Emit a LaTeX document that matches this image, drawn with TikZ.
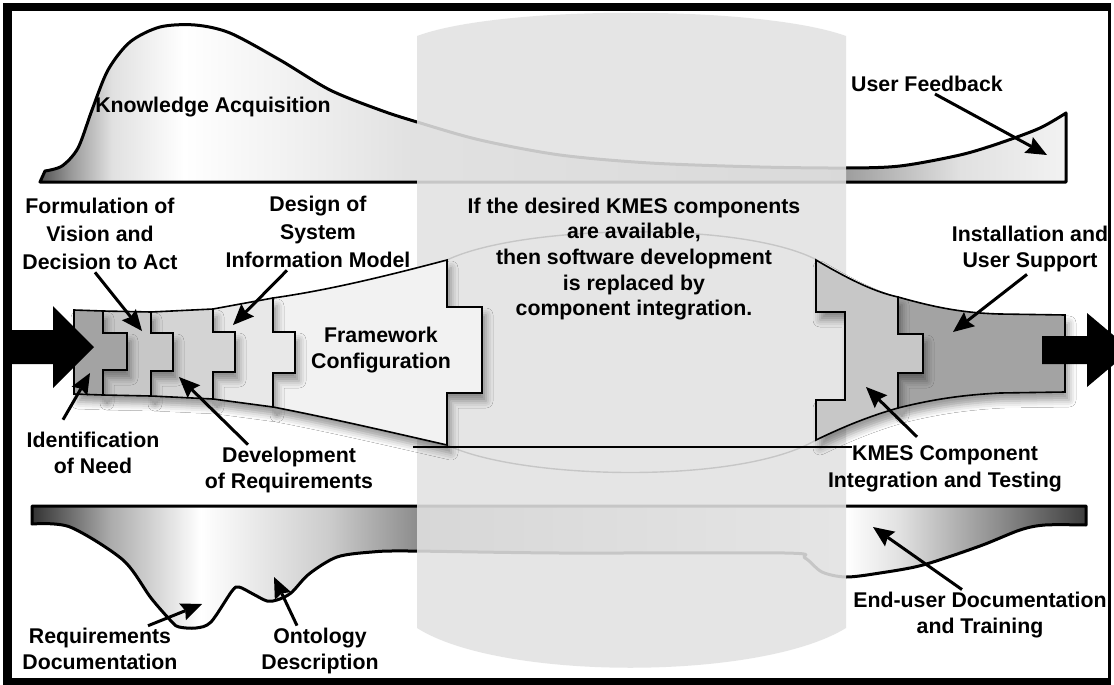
\documentclass[tikz,border=0pt]{standalone}
\usepackage{fontspec}
\setmainfont{Liberation Sans}
\usetikzlibrary{arrows.meta,shadows.blur}
\definecolor{pcA}{gray}{0.64}
\definecolor{pcB}{gray}{0.78}
\definecolor{pcC}{gray}{0.83}
\definecolor{pcD}{gray}{0.91}
\definecolor{pcE}{gray}{0.95}
\definecolor{panelgray}{gray}{0.885}
\pgfdeclarehorizontalshading{topband}{100bp}{color(0bp)=(black!68); color(25bp)=(black!68); color(26.5bp)=(black!40); color(28.5bp)=(black!12); color(32bp)=(white); color(43.4bp)=(black!12); color(64.3bp)=(black!38); color(69.8bp)=(black!12); color(75bp)=(black!5); color(100bp)=(black!5)}
\pgfdeclarehorizontalshading{lowband}{100bp}{color(0bp)=(black!80); color(25bp)=(black!80); color(28.7bp)=(black!33); color(33bp)=(white); color(39.1bp)=(black!20); color(43.3bp)=(black!45); color(63.6bp)=(white); color(66.2bp)=(black!12); color(70.9bp)=(black!45); color(75bp)=(black!76); color(100bp)=(black!76)}

\begin{document}
\begin{tikzpicture}[x=1pt,y=-1pt,
    lbl/.style={font=\fontsize{21.3}{26.5}\selectfont\bfseries,align=center,inner sep=2pt},
    piece/.style={draw,line width=1.6pt,line join=miter},
    pcshadow/.style={blur shadow={shadow xshift=4pt,shadow yshift=-8pt,shadow blur radius=7pt,shadow opacity=40}},
    lblarrow/.style={-{Stealth[length=21pt,width=18pt,inset=3pt,line width=0pt,fill=black]},line width=3pt},
    band/.style={draw,line width=3pt,line join=round}]
    \useasboundingbox (0,0) rectangle (1114,685);
    \fill[black] (3,3) rectangle (1111,685);
    \fill[white] (12,11) rectangle (1108,678);

    \path[band,shade,shading=topband] (40,182) -- (45,171) -- plot[smooth] coordinates {(45,171) (62,166) (78,148) (92,110) (108,70) (130,42) (160,27) (195,25) (230,33) (280,60) (330,90) (380,110) (417,122) (480,140) (560,155) (650,163) (760,167) (846,168) (900,166) (960,155) (1000,143) (1040,128) (1066,113)} -- (1066,182) -- cycle;
    \path[band,shade,shading=lowband] (32,506) -- (1086,506) -- (1086,525) -- plot[smooth] coordinates {(1086,525) (1045,525) (1020,530) (980,546) (923,565) (880,573) (846,577) (822,572) (805,558) (785,553) (560,553) (409,551) (372,552) (337,557) (309,574) (291,593) (277,600) (267,601) (253,594) (239,587) (232,591) (211,622) (196,628) (179,627) (172,622) (151,598) (123,560) (70,527) (32,524)} -- cycle;

    \draw[line width=1.4pt] (447,260) .. controls (520,225) and (740,220) .. (817,260);
    \draw[line width=1.4pt] (447,445) .. controls (520,480) and (740,485) .. (816,440);

    \fill[panelgray,fill opacity=0.88] (417,36) .. controls (500,5) and (760,5) .. (846,36) -- (846,628) .. controls (760,681) and (500,681) .. (417,628) -- cycle;
    \draw[line width=1.4pt] (413,447) -- (852,447);

    \path[piece,pcshadow,fill=pcA] (898,297) .. controls (930,306) and (960,313) .. (1000,314) -- (1065,315) -- (1065,392) -- (1000,393) .. controls (960,395) and (930,400) .. (898,408) -- (898,373) -- (923,373) -- (923,334) -- (898,334) -- cycle;
    \path[piece,pcshadow,fill=pcB] (816,260) .. controls (850,280) and (875,292) .. (898,297) -- (898,334) -- (923,334) -- (923,373) -- (898,373) -- (898,408) .. controls (870,416) and (845,426) .. (816,440) -- (816,400) -- (845,400) -- (845,312) -- (816,312) -- cycle;

    \path[piece,pcshadow,fill=pcE] (273,298) .. controls (330,290) and (390,275) .. (447,260) -- (447,307) -- (482,307) -- (482,393) -- (447,393) -- (447,445) .. controls (390,432) and (330,418) .. (273,407) -- (273,373) -- (295,373) -- (295,332) -- (273,332) -- cycle;
    \path[piece,pcshadow,fill=pcD] (213,309) -- (273,298) -- (273,332) -- (295,332) -- (295,373) -- (273,373) -- (273,407) -- (213,399) -- (213,372) -- (235,372) -- (235,332) -- (213,332) -- cycle;
    \path[piece,pcshadow,fill=pcC] (151,312) -- (213,309) -- (213,332) -- (235,332) -- (235,372) -- (213,372) -- (213,399) -- (151,396) -- (151,371) -- (173,371) -- (173,333) -- (151,333) -- cycle;
    \path[piece,pcshadow,fill=pcB] (103,311) -- (151,312) -- (151,333) -- (173,333) -- (173,371) -- (151,371) -- (151,396) -- (103,395) -- (103,370) -- (127,370) -- (127,333) -- (103,333) -- cycle;
    \path[piece,pcshadow,fill=pcA] (74,310) -- (103,311) -- (103,333) -- (127,333) -- (127,370) -- (103,370) -- (103,395) -- (74,394) -- cycle;

    \fill[black] (10,330) -- (53,330) -- (53,306) -- (94,347) -- (53,388) -- (53,364) -- (10,364) -- cycle;
    \fill[black] (1042,336) -- (1087,336) -- (1087,313) -- (1131,350) -- (1087,387) -- (1087,364) -- (1042,364) -- cycle;

    \node[lbl] (KA) at (213,107) {Knowledge Acquisition};
    \node[lbl] (UF) at (927,84) {User Feedback};
    \node[lbl,font=\fontsize{21.3}{28.3}\selectfont\bfseries] (FV) at (100,234) {Formulation of\\Vision and\\Decision to Act};
    \node[lbl,font=\fontsize{21.3}{28.3}\selectfont\bfseries] (DS) at (318,232) {Design of\\System\\Information Model};
    \node[lbl] (FC) at (381,350) {Framework\\Configuration};
    \node[lbl] (IN) at (93,453) {Identification\\of Need};
    \node[lbl] (DR) at (289,470) {Development\\of Requirements};
    \node[lbl,font=\fontsize{21.3}{25.7}\selectfont\bfseries] (CT) at (634,259) {If the desired KMES components\\are available,\\then software development\\is replaced by\\component integration.};
    \node[lbl] (IS) at (1030,249) {Installation and\\User Support};
    \node[lbl] (KC) at (945,469) {KMES Component\\Integration and Testing};
    \node[lbl] (EU) at (980,615) {End-user Documentation\\and Training};
    \node[lbl] (RD) at (100,649) {Requirements\\Documentation};
    \node[lbl] (OD) at (320,651) {Ontology\\Description};

    \coordinate (UFt) at (1047,155);
    \coordinate (FVt) at (142,331);
    \coordinate (DSt) at (233,325);
    \coordinate (INt) at (90,373);
    \coordinate (DRt) at (179,377);
    \coordinate (ISt) at (953,332);
    \coordinate (KCt) at (866,387);
    \coordinate (RDt) at (202,604);
    \coordinate (ODt) at (274,577);
    \coordinate (EUt) at (873,527);

    \draw[lblarrow] ([xshift=8pt]UF.south) -- (UFt);
    \draw[lblarrow] ([xshift=-5pt]FV.south) -- (FVt);
    \draw[lblarrow] ([xshift=-31pt]DS.south) -- (DSt);
    \draw[lblarrow] ([xshift=-30pt,yshift=10pt]IN.north) -- (INt);
    \draw[lblarrow] ([xshift=-41pt]DR.north) -- (DRt);
    \draw[lblarrow] ([xshift=-3pt]IS.south) -- (ISt);
    \draw[lblarrow] ([xshift=-28pt,yshift=7pt]KC.north) -- (KCt);
    \draw[lblarrow] ([xshift=48pt]RD.north) -- (RDt);
    \draw[lblarrow] ([xshift=-23pt]OD.north) -- (ODt);
    \draw[lblarrow] ([xshift=-18pt]EU.north) -- (EUt);
\end{tikzpicture}
\end{document}
